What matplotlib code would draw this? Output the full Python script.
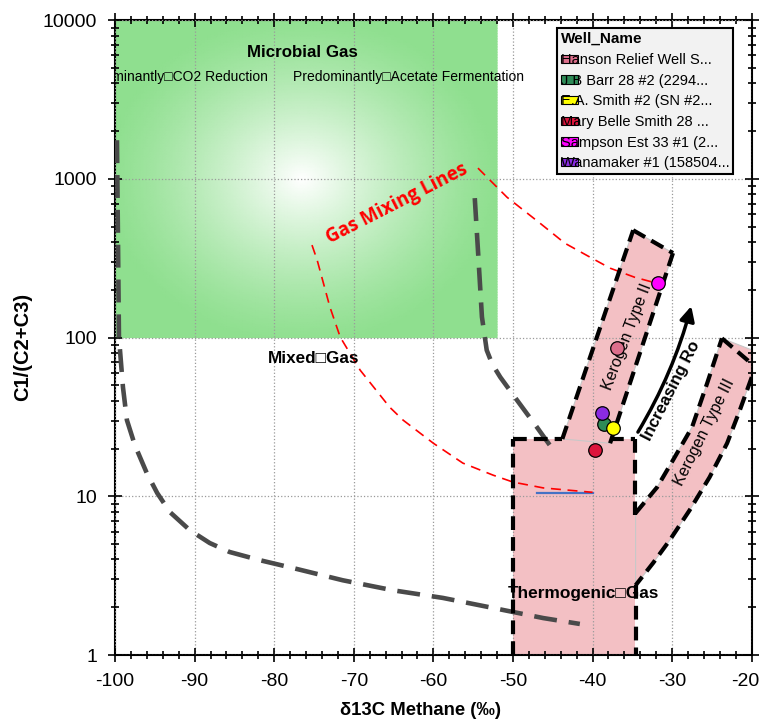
import numpy as np
import matplotlib
matplotlib.use("Agg")
import matplotlib.pyplot as plt
from matplotlib.colors import LinearSegmentedColormap
from matplotlib.patches import Polygon, Patch
from matplotlib.ticker import FixedLocator, NullFormatter, LogLocator, MultipleLocator
from matplotlib.transforms import ScaledTranslation

plt.rcParams['font.family'] = ['Liberation Sans', 'DejaVu Sans']

# well samples
well_names = ["Hanson Relief Well S...", "J B Barr 28 #2 (2294...", "E.A. Smith #2 (SN #2...",
              "Mary Belle Smith 28 ...", "Sampson Est 33 #1 (2...", "Wanamaker #1 (158504..."]
d13c = [-36.9, -38.6, -37.4, -39.7, -31.8, -38.8]
c1_c2c3 = [86, 28.5, 26.9, 19.6, 220, 33.4]
well_colors = ["#dc6f8c", "#2e8b57", "#ffff00", "#dc143c", "#ff00ff", "#8a2be2"]

# interpretive lines (x = d13C, y = C1/(C2+C3))
gray_left_x = [-99.75, -99.5, -99.0, -98.5, -97.5, -96.0, -94.7, -93.1, -90.6, -88.1, -85.6,
               -81.8, -77.6, -71.4, -65.1, -58.8, -52.5, -46.2, -41.6]
gray_left_y = [1754, 100.7, 48.8, 30.2, 21.0, 14.0, 10.5, 7.96, 6.12, 5.08, 4.46,
               3.96, 3.53, 2.96, 2.56, 2.29, 1.98, 1.71, 1.57]
gray_right_x = [-54.8, -54.4, -53.9, -53.3, -52.6, -51.6, -49.5, -47.0, -45.1]
gray_right_y = [757, 356, 135, 83.4, 68, 56.4, 40.4, 27.3, 20.1]
red_low_x = [-75.25, -74.6, -73.0, -71.7, -70.5, -69.2, -65.5, -63.8, -60.0, -56.3, -52.5,
             -50.0, -46.2, -40.0]
red_low_y = [383, 308, 156, 100.7, 80, 62.4, 36.5, 30.2, 21.6, 16.2, 13.6,
             12.3, 11.3, 10.6]
red_up_x = [-54.4, -50.75, -46.6, -43.5, -40.3, -37.8, -34.7, -31.9]
red_up_y = [1170, 767, 526, 394, 321, 274, 240, 220]
blue_x = [-47.0, -40.0]
blue_y = [10.5, 10.5]

# zones
green_x = [-100, -52]
green_y = [100, 10000]
thermo_x = [-50, -34.7]
thermo_y = [1, 23]
type2_x = [-43.8, -34.9, -29.9, -37.8]
type2_y = [23, 475, 341, 21.6]
type3_left_x = [-34.6, -31.9, -29.9, -27.5, -25.6, -23.75]
type3_left_y = [7.84, 11.4, 16.9, 27.3, 51.7, 99]
type3_right_x = [-20.0, -21.5, -23.1, -25.3, -27.8, -30.3, -32.4, -34.6]
type3_right_y = [56.4, 34.9, 21.6, 13.2, 8.19, 5.30, 3.80, 2.75]

pink = "#f3c0c4"
black_dash = (0, (3.3, 1.7))

fig = plt.figure(figsize=(7.64, 7.23), dpi=100)
ax = fig.add_axes([0.1505, 0.094, 0.8335, 0.878])
ax.set_yscale('log')
ax.set_xlim(-100, -20)
ax.set_ylim(1, 10000)

# green microbial zone with radial gradient
gx = np.linspace(green_x[0], green_x[1], 120)
gy = np.logspace(np.log10(green_y[0]), np.log10(green_y[1]), 120)
GX, GY = np.meshgrid(gx, gy)
r = np.sqrt(((GX + 76.5) / 25.0) ** 2 + ((np.log10(GY) - 3.0) / 1.05) ** 2)
C = np.clip(1 - r, 0, 1) ** 1.3
green_cmap = LinearSegmentedColormap.from_list("g", ["#8fdf8f", "#ffffff"])
ax.pcolormesh(GX, GY, C, cmap=green_cmap, shading='gouraud', vmin=0, vmax=1, zorder=0.5)

# pink thermogenic / kerogen zones
ax.fill_between(thermo_x, thermo_y[0], thermo_y[1], color=pink, lw=0, zorder=1)
ax.add_patch(Polygon(list(zip(type2_x, type2_y)), closed=True, fc=pink, ec="#c8c8c8", lw=0.8, zorder=1))
t3 = list(zip(type3_left_x, type3_left_y)) + [(-19.0, 80)] + list(zip(type3_right_x, type3_right_y))
ax.add_patch(Polygon(t3, closed=True, fc=pink, ec="#c8c8c8", lw=0.8, zorder=1))

ax.grid(True, which='major', color='#9a9a9a', linestyle=':', lw=0.9, zorder=1.5)
ax.set_axisbelow(False)

# black dashed outlines
kw = dict(color='black', lw=3.0, ls=black_dash, zorder=3, dash_capstyle='butt')
ax.plot([-50, -50], [1, 23], **kw)
ax.plot([-50, type2_x[0]], [23, 23], **kw)
ax.plot(type2_x[:2], type2_y[:2], **kw)
ax.plot(type2_x[1:3], type2_y[1:3], **kw)
ax.plot(type2_x[2:4], type2_y[2:4], **kw)
ax.plot([type2_x[3], -34.7], [23, 23], **kw)
ax.plot([-34.7, -34.7], [23, 7.6], **kw)
ax.plot(type3_left_x, type3_left_y, **kw)
ax.plot([type3_left_x[-1], -19.0], [type3_left_y[-1], 62], **kw)
ax.plot(type3_right_x, type3_right_y, **kw)
ax.plot([-34.6, -34.6], [2.75, 1], **kw)

# gray dashed boundaries
gkw = dict(color='#4a4a4a', lw=3.3, ls=(0, (5.0, 2.6)), zorder=2.6, dash_capstyle='butt')
ax.plot(gray_left_x, gray_left_y, **gkw)
ax.plot(gray_right_x, gray_right_y, **gkw)

# gas mixing lines
rkw = dict(color='#ff0000', lw=1.2, ls=(0, (6, 4)), zorder=2.7)
ax.plot(red_low_x, red_low_y, **rkw)
ax.plot(red_up_x, red_up_y, **rkw)
ax.plot(blue_x, blue_y, color='#4472c4', lw=1.6, zorder=2.65)

# increasing Ro arrow
ax.annotate("", xy=(-27.6, 158), xytext=(-34.3, 25.4),
            arrowprops=dict(arrowstyle='-|>', color='black', lw=2.5, mutation_scale=22,
                            connectionstyle='arc3,rad=0.07', shrinkA=0, shrinkB=0), zorder=3)

# samples
for name, x, y, c in zip(well_names, d13c, c1_c2c3, well_colors):
    ax.scatter(x, y, s=95, color=c, edgecolor='black', linewidth=0.9, zorder=5)

# annotations
ax.text(-76.4, 6300, "Microbial Gas", fontsize=12.2, fontweight='bold', ha='center', va='center', zorder=4)
ax.text(-80.8, 4370, "Predominantly\u25a1CO2 Reduction", fontsize=10, ha='right', va='center',
        clip_on=True, zorder=4)
ax.text(-77.6, 4370, "Predominantly\u25a1Acetate Fermentation", fontsize=10, ha='left', va='center', zorder=4)
ax.text(-75.1, 74, "Mixed\u25a1Gas", fontsize=12.3, fontweight='bold', ha='center', va='center', zorder=4)
ax.text(-41.2, 2.45, "Thermogenic\u25a1Gas", fontsize=12.4, fontweight='bold', ha='center', va='center', zorder=4)
ax.text(-64.6, 700, "Gas Mixing Lines", fontsize=13.5, fontweight='bold', color='#ff0000',
        family=['Open Sans', 'DejaVu Sans'], rotation=27, ha='center', va='center', zorder=4)
ax.text(-35.7, 102, "Kerogen Type II", fontsize=11.5, rotation=69, ha='center', va='center', zorder=4)
ax.text(-26.0, 25.4, "Kerogen Type III", fontsize=11.5, rotation=63.5, ha='center', va='center', zorder=4)
ax.text(-30.15, 46, "Increasing Ro", fontsize=12, fontweight='bold', rotation=63, ha='center', va='center', zorder=4)

# axes styling
ax.xaxis.set_major_locator(MultipleLocator(10))
ax.xaxis.set_minor_locator(MultipleLocator(2))
ax.yaxis.set_major_locator(FixedLocator([1, 10, 100, 1000, 10000]))
ax.yaxis.set_minor_locator(LogLocator(base=10, subs=np.arange(2, 10)))
ax.yaxis.set_minor_formatter(NullFormatter())
ax.set_yticklabels(["1", "10", "100", "1000", "10000"])
ax.set_xticks(np.arange(-100, -19, 10))
ax.set_xticklabels([str(v) for v in range(-100, -19, 10)])
ax.tick_params(which='both', direction='inout', top=True, right=True, labelsize=14, width=1.2)
ax.tick_params(which='major', length=10, pad=8)
ax.tick_params(which='minor', length=6)
# keep the last x label inside the figure
last = ax.get_xticklabels()[-1]
last.set_transform(last.get_transform() + ScaledTranslation(-5 / 72, 0, fig.dpi_scale_trans))
for s in ax.spines.values():
    s.set_linewidth(1.5)
ax.set_xlabel("\u03b413C Methane (\u2030)", fontsize=13.3, fontweight='bold')
ax.xaxis.set_label_coords(0.479, -0.074)
ax.set_ylabel("C1/(C2+C3)", fontsize=14.5, fontweight='bold')
ax.yaxis.set_label_coords(-0.130, 0.485)

handles = [Patch(facecolor=c, edgecolor='black', lw=0.8) for c in well_colors]
leg = ax.legend(handles, well_names, title="Well_Name", loc='upper left', bbox_to_anchor=(0.694, 0.987),
                fontsize=10.5, title_fontproperties={'weight': 'bold', 'size': 11},
                handlelength=1.2, handleheight=0.5, handletextpad=-1.2, labelspacing=0.46,
                frameon=True, fancybox=False, framealpha=1, facecolor='#f2f2f2', edgecolor='black',
                borderpad=0.25, borderaxespad=0, alignment='left')
leg.get_frame().set_linewidth(1.5)
leg.set_zorder(10)

fig.savefig("out.png", dpi=100)
